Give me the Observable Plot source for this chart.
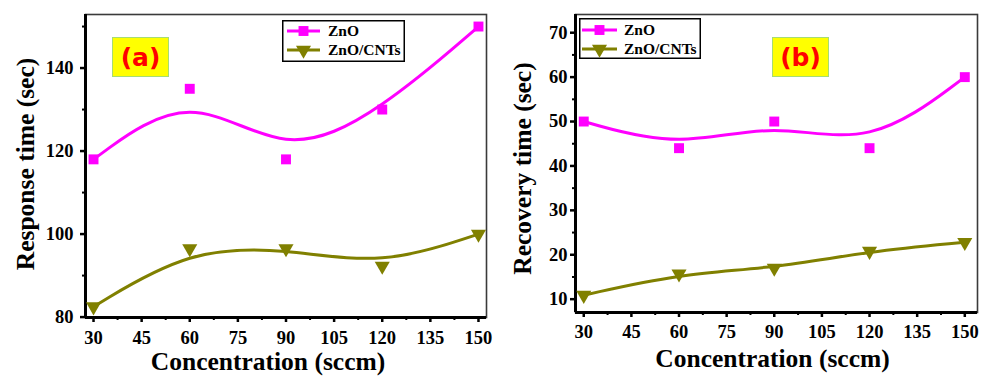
<!DOCTYPE html>
<html><head><meta charset="utf-8">
<script src="https://cdn.jsdelivr.net/npm/d3@7"></script>
<script src="https://cdn.jsdelivr.net/npm/@observablehq/plot@0.6"></script>
<style>
body{margin:0;background:#fff;}
#wrap{position:relative;width:987px;height:376px;overflow:hidden;background:#fff;}
.panel{position:absolute;top:0;}
svg.panel, svg.panel text, svg.legend text{font-family:"Liberation Serif","Times New Roman",serif !important;font-weight:bold;}
.legend{position:absolute;}
.tag{position:absolute;background:#ffff00;border:1px solid #a6dc74;box-sizing:border-box;color:#ff0000;font-family:"DejaVu Sans",sans-serif;font-weight:bold;font-size:25px;display:flex;align-items:center;justify-content:center;line-height:1;}
</style></head><body><div id="wrap"></div>
<script>
// ---- data ----
const concentration = [30, 60, 90, 120, 150];
const seriesNames = ["ZnO", "ZnO/CNTs"];
const seriesColors = ["#ff00ff", "#808000"];
const responseZnO = [118, 135, 118, 130, 150];
const responseCNT = [82.5, 96.5, 96.5, 92.3, 100];
const recoveryZnO = [50, 44, 50, 44, 60];
const recoveryCNT = [10.9, 15.7, 17.0, 20.8, 22.8];
const xTicks = [30, 45, 60, 75, 90, 105, 120, 135, 150];
const xMinor = [37.5, 52.5, 67.5, 82.5, 97.5, 112.5, 127.5, 142.5];
const responseTicks = [80, 100, 120, 140];
const responseMinor = [90, 110, 130, 150];
const recoveryTicks = [10, 20, 30, 40, 50, 60, 70];
const recoveryMinor = [15, 25, 35, 45, 55, 65];
const xTitle = "Concentration (sccm)";
const yTitles = ["Response time (sec)", "Recovery time (sec)"];
const panelTags = ["(a)", "(b)"];

const serif = "Liberation Serif";
const wrap = document.getElementById("wrap");

function rows(vals) { return concentration.map((c, i) => ({c, v: vals[i]})); }

function panel(o) {
  const zno = rows(o.zno), cnt = rows(o.cnt);
  const p = Plot.plot({
    width: o.width, height: 376,
    marginLeft: 85, marginRight: o.marginRight, marginTop: 14, marginBottom: o.marginBottom,
    style: "font-family: 'Liberation Serif', serif; font-weight: bold; font-size: 18.5px; background: transparent; overflow: visible; color: #000;",
    x: {domain: o.xDomain, label: null},
    y: {domain: o.yDomain, label: null},
    marks: [
      Plot.frame({stroke: "#3a3a3a", strokeWidth: 1.6}),
      Plot.axisX(xTicks, {tickSize: 5, tickPadding: o.xTickPad, strokeWidth: 2.5, fontSize: 18.5, fontWeight: "bold", fontFamily: serif, label: null}),
      Plot.axisX(xMinor, {tickSize: 3, strokeWidth: 2, tickFormat: () => "", label: null}),
      Plot.axisY(o.yTicks, {tickSize: 5, tickPadding: o.yTickPad, strokeWidth: 2.5, fontSize: 18.5, fontWeight: "bold", fontFamily: serif, label: null}),
      Plot.axisY(o.yMinor, {tickSize: 3, strokeWidth: 2, tickFormat: () => "", label: null}),
      Plot.ruleX([o.xDomain[0]], {stroke: "#000", strokeWidth: 3}),
      Plot.ruleY([o.yDomain[0]], {stroke: "#000", strokeWidth: 3}),
      Plot.line(zno, {x: "c", y: "v", stroke: seriesColors[0], strokeWidth: 3, curve: "basis"}),
      Plot.line(cnt, {x: "c", y: "v", stroke: seriesColors[1], strokeWidth: 3, curve: "basis"}),
      Plot.dot(zno, {x: "c", y: "v", symbol: "square", fill: seriesColors[0], r: 5.6}),
      Plot.dot(cnt, {x: "c", y: "v", symbol: "triangle", fill: seriesColors[1], r: 5.6, rotate: 180}),
      Plot.text([o.yTitle], {text: d => d, frameAnchor: "left", rotate: -90, dx: o.yTitleDx, dy: o.yTitleDy, textAnchor: "middle", lineAnchor: "middle", fontSize: 25.5, fontWeight: "bold", fontFamily: serif, fill: "#000"}),
      Plot.text([xTitle], {text: d => d, frameAnchor: "bottom", dx: o.xTitleDx, dy: o.xTitleDy, textAnchor: "middle", lineAnchor: "middle", fontSize: 25.5, fontWeight: "bold", fontFamily: serif, fill: "#000"})
    ]
  });
  p.classList.add("panel");
  p.style.position = "absolute";
  p.style.top = "0px";
  p.style.left = o.left + "px";
  wrap.appendChild(p);

  // legend
  const lg = d3.create("svg").attr("class", "legend")
    .attr("width", o.lgW).attr("height", o.lgH)
    .style("left", o.lgX + "px").style("top", o.lgY + "px");
  lg.append("rect").attr("x", 0.75).attr("y", 0.75).attr("width", o.lgW - 1.5).attr("height", o.lgH - 1.5)
    .attr("fill", "#fff").attr("stroke", "#000").attr("stroke-width", 1.5);
  seriesNames.forEach((name, i) => {
    const cy = o.lgRow0 + i * 19;
    lg.append("line").attr("x1", o.lgL0).attr("x2", o.lgL1).attr("y1", cy).attr("y2", cy)
      .attr("stroke", seriesColors[i]).attr("stroke-width", 3);
    const sym = i === 0 ? d3.symbol(d3.symbolSquare, Math.PI * 5.6 * 5.6) : d3.symbol(d3.symbolTriangle, Math.PI * 5.6 * 5.6);
    lg.append("path").attr("d", sym())
      .attr("transform", `translate(${(o.lgL0 + o.lgL1) / 2},${cy})` + (i === 1 ? " rotate(180)" : ""))
      .attr("fill", seriesColors[i]);
    lg.append("text").attr("x", o.lgT).attr("y", cy).attr("dy", "0.35em")
      .attr("font-family", serif).attr("font-weight", "bold").attr("font-size", 15.5).text(name);
  });
  wrap.appendChild(lg.node());

  const tag = document.createElement("div");
  tag.className = "tag";
  tag.textContent = o.tag;
  Object.assign(tag.style, {left: o.tagX + "px", top: "37px", width: "57px", height: "40px"});
  wrap.appendChild(tag);
}

panel({left: 0, width: 490, marginRight: 4, marginBottom: 59,
  xDomain: [27.5, 152.5], yDomain: [79.9, 152.9], yTicks: responseTicks, yMinor: responseMinor,
  zno: responseZnO, cnt: responseCNT, yTitle: yTitles[0],
  yTitleDx: -60, yTitleDy: -2, xTitleDx: -18, xTitleDy: 44.5, xTickPad: 8, yTickPad: 7,
  lgX: 282, lgY: 20, lgW: 123, lgH: 42, lgRow0: 11, lgL0: 5, lgL1: 38, lgT: 46,
  tag: panelTags[0], tagX: 112});

panel({left: 490, width: 497, marginRight: 10, marginBottom: 64,
  xDomain: [27.4, 154], yDomain: [7, 74.1], yTicks: recoveryTicks, yMinor: recoveryMinor,
  zno: recoveryZnO, cnt: recoveryCNT, yTitle: yTitles[1],
  yTitleDx: -53, yTitleDy: 5, xTitleDx: -4, xTitleDy: 46, xTickPad: 7, yTickPad: 3,
  lgX: 579, lgY: 18, lgW: 122, lgH: 41, lgRow0: 12, lgL0: 3, lgL1: 38, lgT: 45,
  tag: panelTags[1], tagX: 772});
</script></body></html>
